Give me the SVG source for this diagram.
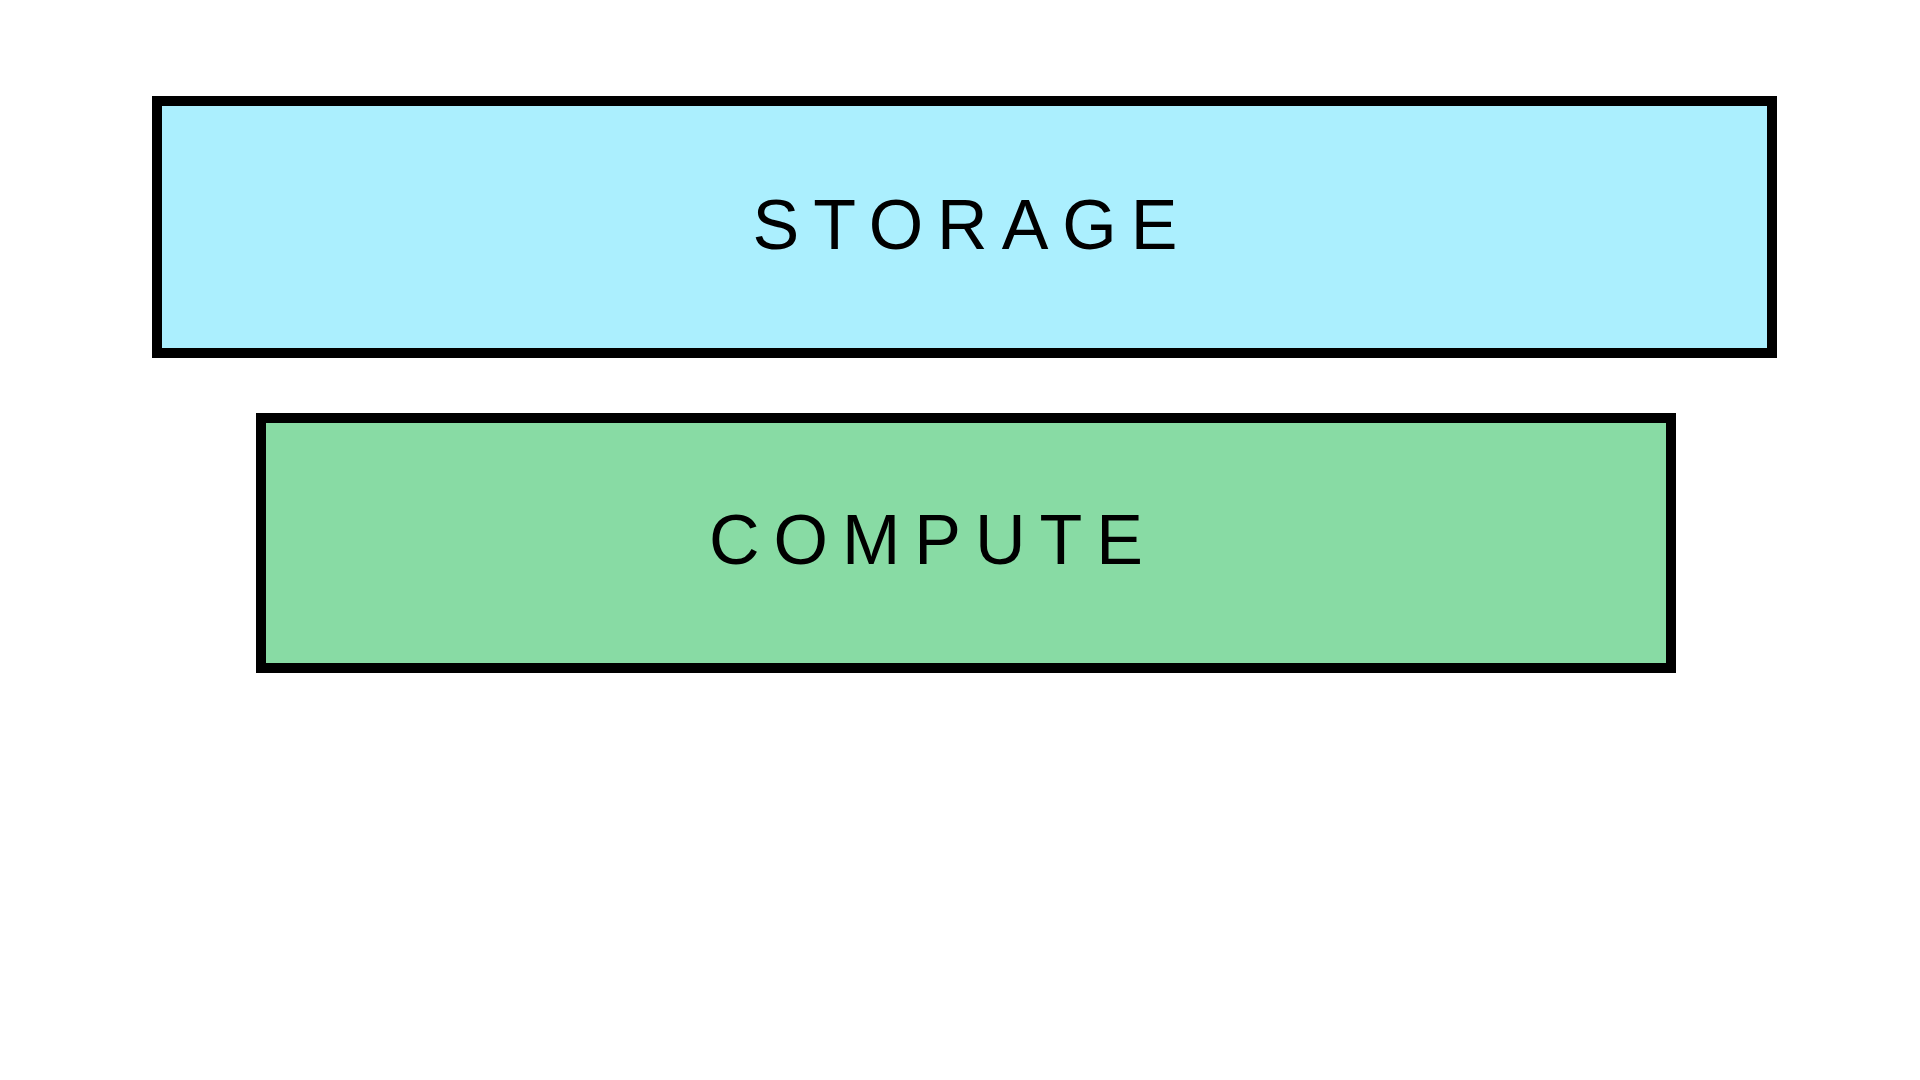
<svg xmlns="http://www.w3.org/2000/svg" width="1920" height="1080" viewBox="0 0 1920 1080">
<style>
.box{stroke:#000;stroke-width:10}
.lbl{font-family:"Liberation Sans",Arial,sans-serif;font-size:70px;letter-spacing:14px;text-anchor:middle;dominant-baseline:central;fill:#000}
</style>
<rect width="1920" height="1080" fill="#fff"/>
<g id="storage">
<rect class="box" x="157" y="101" width="1615" height="252" fill="#abeffe"/>
<text class="lbl" x="972" y="225">STORAGE</text>
</g>
<g id="compute">
<rect class="box" x="261" y="418" width="1410" height="250" fill="#88dba4"/>
<text class="lbl" x="933" y="540">COMPUTE</text>
</g>
<g id="connectors"/>
</svg>
